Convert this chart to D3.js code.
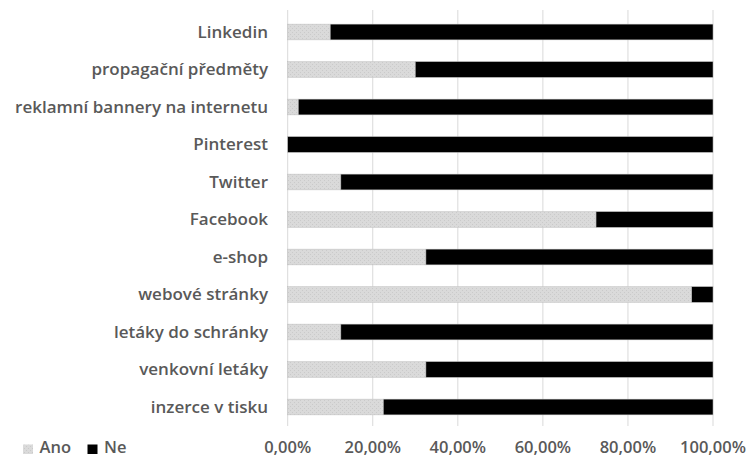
<!DOCTYPE html>
<html><head><meta charset="utf-8">
<script src="https://cdn.jsdelivr.net/npm/d3@7"></script>
<style>body{margin:0;background:#fff}svg text{font-family:"Open Sans",sans-serif;font-weight:600;fill:#595959}</style>
</head><body><svg id="c" width="752" height="459"></svg>
<script>
const categories = ["Linkedin","propagační předměty","reklamní bannery na internetu","Pinterest","Twitter","Facebook","e-shop","webové stránky","letáky do schránky","venkovní letáky","inzerce v tisku"];
const ano = [10,30,2.5,0,12.5,72.5,32.5,95,12.5,32.5,22.5];
const ne = [90,70,97.5,100,87.5,27.5,67.5,5,87.5,67.5,77.5];
const seriesNames = ["Ano","Ne"];
const tickValues = [0,20,40,60,80,100];

const svg = d3.select("#c");
const defs = svg.append("defs");
const pat = defs.append("pattern").attr("id","dots").attr("width",4).attr("height",4).attr("patternUnits","userSpaceOnUse");
pat.append("rect").attr("width",4).attr("height",4).attr("fill","#dadada");
pat.append("rect").attr("x",0).attr("y",0).attr("width",1).attr("height",1).attr("fill","#cacaca");
pat.append("rect").attr("x",2).attr("y",2).attr("width",1).attr("height",1).attr("fill","#cacaca");

const x = d3.scaleLinear().domain([0,100]).range([287.7,713]);
const y = d3.scaleBand().domain(categories).range([13.25,425.75]).paddingInner(0.58).paddingOuter(0.29);

// gridlines
svg.append("g").selectAll("line").data(tickValues).join("line")
  .attr("x1",d=>x(d)).attr("x2",d=>x(d)).attr("y1",10).attr("y2",426)
  .attr("stroke","#d9d9d9").attr("stroke-width",1);

const data = categories.map((c,i)=>({cat:c,Ano:ano[i],Ne:ne[i]}));
const stack = d3.stack().keys(seriesNames)(data);
const fills = {Ano:"url(#dots)",Ne:"#000"};
svg.append("g").selectAll("g").data(stack).join("g")
  .attr("fill",s=>fills[s.key])
  .selectAll("rect").data(s=>s).join("rect")
  .attr("x",d=>x(d[0])).attr("width",d=>x(d[1])-x(d[0]))
  .attr("y",d=>y(d.data.cat)).attr("height",y.bandwidth())
  .attr("stroke","#bfbfbf").attr("stroke-width",0.5);

// category labels
svg.append("g").selectAll("text").data(categories).join("text")
  .attr("x",268).attr("y",d=>y(d)+y.bandwidth()/2).attr("dy","0.35em")
  .attr("text-anchor","end").attr("font-size",17).text(d=>d);

// x axis labels
const fmt = v => v.toFixed(2).replace(".",",")+"%";
svg.append("g").selectAll("text").data(tickValues).join("text")
  .attr("x",d=>x(d)).attr("y",447.5).attr("dy","0.35em")
  .attr("text-anchor","middle").attr("font-size",16.5).text(fmt);

// legend
const leg = svg.append("g");
const legX = [23,87.5];
seriesNames.forEach((s,i)=>{
  leg.append("rect").attr("x",legX[i]).attr("y",444.5).attr("width",10).attr("height",9.5).attr("fill",fills[s]);
  leg.append("text").attr("x",legX[i]+16.5).attr("y",447.5).attr("dy","0.35em").attr("font-size",16.5).text(s);
});
</script></body></html>
